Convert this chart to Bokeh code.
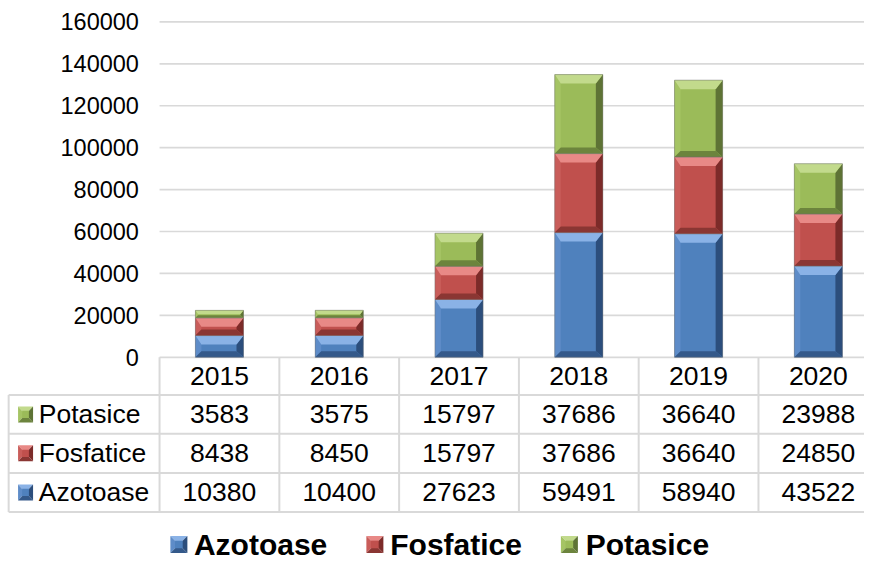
import numpy as np
from bokeh.plotting import figure
from bokeh.models import Range1d
from bokeh.core.properties import value
from bokeh.embed import file_html
from bokeh.resources import INLINE

# ---------------- data ----------------
years = ["2015", "2016", "2017", "2018", "2019", "2020"]
azotoase = [10380, 10400, 27623, 59491, 58940, 43522]
fosfatice = [8438, 8450, 15797, 37686, 36640, 24850]
potasice = [3583, 3575, 15797, 37686, 36640, 23988]
series_names = ["Azotoase", "Fosfatice", "Potasice"]
y_ticks = [0, 20000, 40000, 60000, 80000, 100000, 120000, 140000, 160000]

# ---------------- layout helpers (reference pixel -> data) ----------------
W, H = 864, 560
SX, SY = W / 880.0, H / 576.0
PX_Y = 345.0 / 160000.0   # reference pixels per unit on value axis
PX_X = 122.0              # reference pixels per category


def X(img_x):
    return (img_x - 223.0) / PX_X


def Y(img_y):
    return (367.0 - img_y) / PX_Y


def dx(px):
    return px / (PX_X * SX)


def dy(px):
    return px / (PX_Y * SY)


FONT = value("Liberation Sans")

p = figure(width=W, height=H,
           x_range=Range1d(X(0), X(880)), y_range=Range1d(Y(576), Y(0)),
           output_backend="svg", toolbar_location=None,
           x_axis_location=None, y_axis_location=None,
           min_border=0, outline_line_color=None)
p.xgrid.visible = False
p.ygrid.visible = False

GRID = "#D9D9D9"

# ---------------- gridlines + y tick labels ----------------
yt = np.array(y_ticks, dtype=float)
p.segment(x0=[X(162)] * len(yt), x1=[X(900)] * len(yt), y0=yt, y1=yt,
          line_color=GRID, line_width=1.7)
p.text(x=[X(141)] * len(yt), y=yt, text=[str(int(v)) for v in yt],
       text_font=FONT, text_font_size=value("23.5px"), text_align="right",
       text_baseline="middle", text_color="#000000")

# ---------------- bevelled stacked bars ----------------
colors = {
    "Azotoase": dict(face="#4F81BD", top="#8AB2E6", left="#5E8CC8", right="#2C4E7C", bottom="#34598A"),
    "Fosfatice": dict(face="#C0504D", top="#E88986", left="#C95D5A", right="#7C2B29", bottom="#8A3633"),
    "Potasice": dict(face="#9BBB59", top="#C2DA8C", left="#A5C464", right="#5E7335", bottom="#6C843D"),
}
stack = {"Azotoase": azotoase, "Fosfatice": fosfatice, "Potasice": potasice}
xs = np.arange(len(years), dtype=float)
bar_w = 49.0 / PX_X
bottoms = np.zeros(len(years))
T, B, L, R = 9.0, 6.0, 6.0, 7.0
for name in series_names:
    vals = np.array(stack[name], dtype=float)
    tops = bottoms + vals
    x0 = xs - bar_w / 2
    x1 = xs + bar_w / 2
    c = colors[name]
    p.quad(left=x0, right=x1, bottom=bottoms, top=tops, fill_color=c["face"], line_color=None)
    tp, bp, lp, rp = [], [], [], []
    for i in range(len(years)):
        hpx = vals[i] * PX_Y * SY
        k = min(1.0, max(0.0, (hpx - 1.0) / (T + B)))
        t, b, l, r = dy(T * k), dy(B * k), dx(L * k), dx(R * k)
        X0, X1, Y0, Y1 = x0[i], x1[i], bottoms[i], tops[i]
        tp.append(([X0, X1, X1 - r, X0 + l], [Y1, Y1, Y1 - t, Y1 - t]))
        bp.append(([X0, X1, X1 - r, X0 + l], [Y0, Y0, Y0 + b, Y0 + b]))
        lp.append(([X0, X0, X0 + l, X0 + l], [Y0, Y1, Y1 - t, Y0 + b]))
        rp.append(([X1, X1, X1 - r, X1 - r], [Y0, Y1, Y1 - t, Y0 + b]))
    for polys, key in ((lp, "left"), (rp, "right"), (tp, "top"), (bp, "bottom")):
        p.patches(xs=[q[0] for q in polys], ys=[q[1] for q in polys],
                  fill_color=c[key], line_color=None)
    p.quad(left=x0, right=x1, bottom=bottoms, top=tops, fill_color=None,
           line_color="#6F6F6F", line_alpha=0.45, line_width=1)
    bottoms = tops


def pyramid(cx, cy, hw, hh, c):
    # small bevelled legend key made of four triangles
    TL = (cx - dx(hw), cy + dy(hh)); TR = (cx + dx(hw), cy + dy(hh))
    BL = (cx - dx(hw), cy - dy(hh)); BR = (cx + dx(hw), cy - dy(hh))
    C = (cx, cy)
    tris = [((TL, TR, C), c["top"]), ((TL, BL, C), c["left"]),
            ((TR, BR, C), c["right"]), ((BL, BR, C), c["bottom"])]
    p.patches(xs=[[pt[0] for pt in t] for t, _ in tris],
              ys=[[pt[1] for pt in t] for t, _ in tris],
              fill_color=[col for _, col in tris], line_color=None)
    p.quad(left=[cx - dx(hw * 0.45)], right=[cx + dx(hw * 0.45)],
           bottom=[cy - dy(hh * 0.45)], top=[cy + dy(hh * 0.45)],
           fill_color=c["face"], line_color=None)


# ---------------- data table ----------------
row_lines = [405.7, 445.7, 486.0, 526.0]
p.segment(x0=[X(8.3)] * 4, x1=[X(900)] * 4, y0=[Y(v) for v in row_lines],
          y1=[Y(v) for v in row_lines], line_color=GRID, line_width=2)
col_edges = xs.tolist() + [len(years)]
p.segment(x0=[e - 0.5 for e in col_edges], x1=[e - 0.5 for e in col_edges],
          y0=[Y(367)] * len(col_edges), y1=[Y(526)] * len(col_edges),
          line_color=GRID, line_width=2)
p.segment(x0=[X(8.3)], x1=[X(8.3)], y0=[Y(405.7)], y1=[Y(526)],
          line_color=GRID, line_width=2)

p.text(x=xs, y=[Y(386)] * len(years), text=years, text_font=FONT,
       text_font_size=value("26.5px"), text_align="center", text_baseline="middle",
       text_color="#000000")

row_centers = {"Potasice": 425.7, "Fosfatice": 465.8, "Azotoase": 506.0}
for name in ["Potasice", "Fosfatice", "Azotoase"]:
    yc = Y(row_centers[name])
    p.text(x=xs, y=[yc] * len(years), text=[str(v) for v in stack[name]], text_font=FONT,
           text_font_size=value("26.5px"), text_align="center", text_baseline="middle",
           text_color="#000000")
    p.text(x=[X(39)], y=[yc], text=[name], text_font=FONT,
           text_font_size=value("26.5px"), text_align="left", text_baseline="middle",
           text_color="#000000")
    pyramid(X(25.5), yc, 7.5, 8.0, colors[name])

# ---------------- bottom legend ----------------
leg_y = Y(559.5)
leg_key_x = [181.7, 381.3, 579.4]
leg_txt_x = [197, 397, 596]
for name, kx, tx in zip(series_names, leg_key_x, leg_txt_x):
    pyramid(X(kx), leg_y, 8.5, 8.5, colors[name])
    p.text(x=[X(tx)], y=[leg_y], text=[name], text_font=FONT,
           text_font_size=value("30px"), text_font_style="bold", text_align="left",
           text_baseline="middle", text_color="#000000")

open("out.html", "w").write(file_html(p, INLINE))
